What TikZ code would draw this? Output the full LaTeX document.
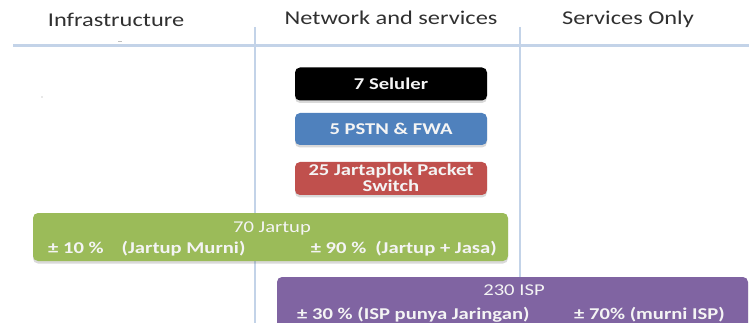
\documentclass[tikz,border=0pt]{standalone}
\usepackage{fontspec}
\setmainfont[FakeStretch=1.25]{Carlito}
\usetikzlibrary{shadows}

\definecolor{rulecol}{HTML}{C3D3E8}
\definecolor{headcol}{HTML}{303030}
\definecolor{celblue}{HTML}{4F81BD}
\definecolor{celred}{HTML}{C0504D}
\definecolor{celgreen}{HTML}{9BBB59}
\definecolor{celpurple}{HTML}{8064A2}
\definecolor{boxtext}{HTML}{F4F4F4}

\tikzset{
  header/.style={text=headcol, font=\fontsize{19.5}{22}\selectfont, anchor=base, inner sep=0pt},
  divider/.style={draw=rulecol, line width=2pt},
  opbox/.style={rounded corners=5pt, inner sep=0pt, draw=none,
    drop shadow={shadow xshift=0pt, shadow yshift=-2.5pt, opacity=0.25, fill=black!60}},
  boxlabel/.style={text=boxtext, font=\bfseries\fontsize{16.5}{18}\selectfont, anchor=base, inner sep=0pt},
  plainlabel/.style={text=boxtext, font=\fontsize{16.5}{18}\selectfont, anchor=base, inner sep=0pt},
}

\begin{document}
\begin{tikzpicture}[x=1pt, y=-1pt]
\useasboundingbox (0,0) rectangle (749,323);

% column dividers
\draw[rulecol, line width=3pt] (13,46) -- (760,46);
\draw[divider] (255,27) -- (255,330);
\draw[divider] (520,27) -- (520,280);

% faint marks
\draw[black!25, line width=1pt] (118,42) -- (122,42);
\fill[black!12] (42,97) circle (1.2pt);

% column headers
\node[header] (hinfra) at (116,27) {Infrastructure};
\node[header] (hnet) at (391,25) {Network and services};
\node[header] (hserv) at (628,25) {Services Only};

% operator boxes
\node[opbox, fill=black, minimum width=192pt, minimum height=33pt] (sel) at (391,84) {};
\node[boxlabel] (selt) at (391,90) {7 Seluler};

\node[opbox, fill=celblue, minimum width=192pt, minimum height=32pt] (pstn) at (391,129) {};
\node[boxlabel] (pstnt) at (391,135) {5 PSTN \& FWA};

\node[opbox, fill=celred, minimum width=192pt, minimum height=33pt] (jpack) at (391,178.5) {};
\node[boxlabel] (jpackt) at (391,176) {25 Jartaplok Packet};
\node[boxlabel] (jpackt2) at (391,192) {Switch};

\node[opbox, fill=celgreen, minimum width=475pt, minimum height=48pt] (jartup) at (270.5,237) {};
\node[plainlabel] (jartupt) at (272,232) {70 Jartup};
\node[boxlabel, anchor=base west] (jartupa) at (48,253) {± 10 \%\hspace{18pt}(Jartup Murni)};
\node[boxlabel, anchor=base east] (jartupb) at (497,253) {± 90 \%\hspace{9pt}(Jartup + Jasa)};

\node[opbox, fill=celpurple, minimum width=471pt, minimum height=60pt] (isp) at (512.5,307) {};
\node[plainlabel] (ispt) at (514,295) {230 ISP};
\node[boxlabel, anchor=base west] (ispa) at (297,319) {± 30 \% (ISP punya Jaringan)};
\node[boxlabel, anchor=base east] (ispb) at (725,319) {± 70\% (murni ISP)};
\end{tikzpicture}
\end{document}
